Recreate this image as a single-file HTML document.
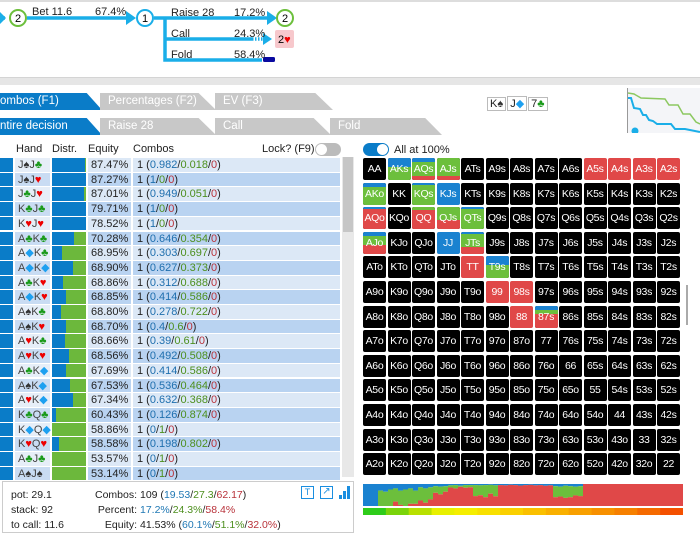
<!DOCTYPE html>
<html><head><meta charset="utf-8">
<style>
*{box-sizing:border-box}
body{margin:0;width:700px;height:531px;overflow:hidden;background:#fff;font-family:"Liberation Sans",sans-serif;font-size:11px;color:#222;position:relative}
.abs{position:absolute}
.tab{position:absolute;height:17px;line-height:17px;color:#fff;font-size:11.5px;padding-left:8px;clip-path:polygon(0 0,85% 0,100% 100%,0 100%)}
.row{position:absolute;left:0;height:14px;width:340px}
.cell{position:absolute;width:23px;height:22px;border-radius:2px;overflow:hidden;background:#000}
.cell span{position:absolute;left:0;right:0;top:0;line-height:22px;text-align:center;color:#fff;font-size:10.5px;letter-spacing:-0.3px}
.r{color:#e00}.g{color:#1a9a1a}.bl{color:#1ea0f0}.k{color:#333}
</style></head><body>
<div class="abs" style="left:0;top:0;width:700px;height:2px;background:#ddd"></div>
<svg class="abs" style="left:0;top:0" width="330" height="75">
<g stroke="#1aaee8" stroke-width="3.5" fill="none">
<line x1="0" y1="18" x2="5" y2="18"/><line x1="27" y1="18" x2="128" y2="18"/>
<line x1="154" y1="18" x2="268" y2="18"/>
<polyline points="165,18 165,60 262,60"/>
<line x1="165" y1="39" x2="252" y2="39"/>
</g>
<line x1="252" y1="39" x2="264" y2="39" stroke="#1aaee8" stroke-width="3.5" stroke-dasharray="1.5,1.5"/>
<polygon points="0,12 6,18 0,24" fill="#1aaee8"/>
<polygon points="126,11 136,18 126,25" fill="#1aaee8"/>
<polygon points="267,11 277,18 267,25" fill="#1aaee8"/>
<polygon points="263,33 272,39 263,45" fill="#1aaee8"/>
<rect x="263" y="57" width="12" height="5" rx="1.5" fill="#0a0aa0"/>
<circle cx="18" cy="18" r="8" fill="#fff" stroke="#6cbf3c" stroke-width="2"/>
<text x="18" y="22" font-size="11" text-anchor="middle" font-family="Liberation Sans">2</text>
<circle cx="145" cy="18" r="8" fill="#fff" stroke="#1aaee8" stroke-width="2"/>
<text x="145" y="22" font-size="11" text-anchor="middle" font-family="Liberation Sans">1</text>
<circle cx="285" cy="18" r="8" fill="#fff" stroke="#6cbf3c" stroke-width="2"/>
<text x="285" y="22" font-size="11" text-anchor="middle" font-family="Liberation Sans">2</text>
<rect x="275" y="30" width="19" height="18" rx="2" fill="#f7c8cc"/>
<text x="278" y="43" font-size="11" font-family="Liberation Sans">2<tspan fill="#e00">♥</tspan></text>
<g font-size="11" font-family="Liberation Sans" fill="#222">
<text x="32" y="15">Bet 11.6</text><text x="95" y="15">67.4%</text>
<text x="171" y="16">Raise 28</text><text x="234" y="16">17.2%</text>
<text x="171" y="37">Call</text><text x="234" y="37">24.3%</text>
<text x="171" y="58">Fold</text><text x="234" y="58">58.4%</text>
</g></svg>
<div class="abs" style="left:0;top:77px;width:700px;height:8px;background:#e6e6e6;border-top:1px solid #d4d4d4"></div>
<div class="tab" style="left:0;top:93px;width:102px;background:#0a7cc8;padding-left:0">ombos (F1)</div>
<div class="tab" style="left:100px;top:93px;width:116px;background:#c8c8c8">Percentages (F2)</div>
<div class="tab" style="left:215px;top:93px;width:118px;background:#c8c8c8">EV (F3)</div>
<div class="tab" style="left:0;top:118px;width:102px;background:#0a7cc8;padding-left:0">ntire decision</div>
<div class="tab" style="left:100px;top:118px;width:116px;background:#c8c8c8">Raise 28</div>
<div class="tab" style="left:215px;top:118px;width:116px;background:#c8c8c8">Call</div>
<div class="tab" style="left:330px;top:118px;width:112px;background:#c8c8c8">Fold</div>
<div class="abs" style="left:487px;top:96px;font-size:11px">
<span style="display:inline-block;border:1px solid #bbb;padding:0 2px;margin-right:1px">K<span class="k">♠</span></span><span style="display:inline-block;border:1px solid #bbb;padding:0 2px;margin-right:1px">J<span class="bl">◆</span></span><span style="display:inline-block;border:1px solid #bbb;padding:0 2px">7<span class="g">♣</span></span></div>
<svg class="abs" style="left:627px;top:88px" width="73" height="45">
<rect x="0" y="0" width="73" height="45" fill="#f4f5f8"/>
<line x1="0.5" y1="0" x2="0.5" y2="45" stroke="#999"/>
<polyline points="1,5 7,6 14,10 38,11 42,17 51,17 56,26 63,26 69,34 73,36" fill="none" stroke="#8cc860" stroke-width="1.5"/>
<polyline points="1,10 4,10 7,20 13,21 16,27 19,27 22,32 26,33 30,36 44,36 48,41 58,41 73,44" fill="none" stroke="#1aaee8" stroke-width="2"/>
<circle cx="8" cy="43" r="3.5" fill="#1aaee8"/>
</svg>
<div class="abs" style="left:0;top:143px;width:340px;height:14px;font-size:11px">
<span class="abs" style="left:16px">Hand</span><span class="abs" style="left:52px">Distr.</span><span class="abs" style="left:88px">Equity</span><span class="abs" style="left:133px">Combos</span><span class="abs" style="left:262px">Lock? (F9)</span>
<span class="abs" style="left:315px;top:0;width:26px;height:13px;border-radius:7px;background:#bbb"><span class="abs" style="left:1px;top:1px;width:11px;height:11px;border-radius:6px;background:#fff"></span></span></div>
<div id="table"></div>
<div class="abs" style="left:342px;top:157px;width:12px;height:320px;background:#e8e8e8"><div style="margin-left:1px;width:10px;height:75px;background:#c6c6c6"></div></div>
<div class="abs" style="left:363px;top:143px;width:26px;height:13px;border-radius:7px;background:#0a7cc8"><span class="abs" style="left:14px;top:1px;width:11px;height:11px;border-radius:6px;background:#fff"></span></div>
<div class="abs" style="left:394px;top:144px">All at 100%</div>
<div id="grid"></div>
<div class="abs" style="left:686px;top:285px;width:2px;height:40px;background:#aaa"></div>
<div class="abs" style="left:2px;top:481px;width:352px;height:52px;border:1px solid #ccc;font-size:10.5px;line-height:15px;padding:3px 0 0 8px;background:#fff;z-index:5">
<div class="abs" style="left:8px;top:6px">pot: 29.1<br>stack: 92<br>to call: 11.6</div>
<div class="abs" style="left:88px;top:6px;text-align:right;width:46px">Combos:<br>Percent:<br>Equity:</div>
<div class="abs" style="left:137px;top:6px">109 (<span style="color:#1f78b4">19.53</span>/<span style="color:#4d8f1e">27.3</span>/<span style="color:#b8323a">62.17</span>)<br><span style="color:#1f78b4">17.2%</span>/<span style="color:#4d8f1e">24.3%</span>/<span style="color:#b8323a">58.4%</span><br>41.53% (<span style="color:#1f78b4">60.1%</span>/<span style="color:#4d8f1e">51.1%</span>/<span style="color:#b8323a">32.0%</span>)</div>
<div class="abs" style="left:298px;top:4px;width:13px;height:13px;border:1.5px solid #1a8ee0;color:#1a8ee0;font-size:9px;line-height:10px;text-align:center">T</div>
<div class="abs" style="left:317px;top:4px;width:13px;height:13px;border:1.5px solid #1a8ee0;color:#1a8ee0;font-size:10px;line-height:10px;text-align:center">↗</div>
<svg class="abs" style="left:335px;top:3px" width="14" height="14"><rect x="1" y="10" width="3" height="4" fill="#1a8ee0"/><rect x="5" y="6" width="3" height="8" fill="#1a8ee0"/><rect x="9" y="1" width="3" height="13" fill="#1a8ee0"/></svg>
</div>
<svg id="sbar" class="abs" style="left:363px;top:484px" width="320" height="31"></svg>
<script>
const hands=['J♠J♣','J♠J♥','J♣J♥','K♣J♣','K♥J♥','A♣K♣','A◆K♣','A◆K◆','A♣K♥','A◆K♥','A♠K♣','A♠K♥','A♥K♣','A♥K♥','A♣K◆','A♠K◆','A♥K◆','K♣Q♣','K◆Q◆','K♥Q♥','A♣J♣','A♠J♠'];
const equity=['87.47%','87.27%','87.01%','79.71%','78.52%','70.28%','68.95%','68.90%','68.86%','68.85%','68.80%','68.70%','68.66%','68.56%','67.69%','67.53%','67.34%','60.43%','58.86%','58.58%','53.57%','53.14%'];
const raiseF=['0.982','1','0.949','1','1','0.646','0.303','0.627','0.312','0.414','0.278','0.4','0.39','0.492','0.414','0.536','0.632','0.126','0','0.198','0','0'];
const callF=['0.018','0','0.051','0','0','0.354','0.697','0.373','0.688','0.586','0.722','0.6','0.61','0.508','0.586','0.464','0.368','0.874','1','0.802','1','1'];
const ROW0=158,PITCH=14.7;
function suitHtml(h){return h.replace(/[♠♣♥◆]/g,s=>'<span class="'+({'♠':'k','♣':'g','♥':'r','◆':'bl'})[s]+'">'+s+'</span>');}
const tb=document.getElementById('table');
hands.forEach((h,i)=>{
 const r=document.createElement('div');
 
 
 r.className='row';
 r.style.top=(ROW0+i*PITCH)+'px';
 r.style.height='13.7px';
 const bg=i%2?'#b9d3f1':'#dce8f6';
 const b=parseFloat(raiseF[i]);
 r.innerHTML='<div class="abs" style="left:0;top:0;width:13px;height:13.7px;background:#0a7cc8"></div>'+
 '<div class="abs" style="left:15px;top:0;width:35px;height:13.7px;background:'+(i%2?'#c9dcf3':'#e6eef8')+';padding-left:3px;line-height:14px;color:#444">'+suitHtml(h)+'</div>'+
 '<div class="abs" style="left:52px;top:0;width:34px;height:13.7px;background:#6cb83c"><div style="width:'+(b*34)+'px;height:13.7px;background:#0a7cc8"></div></div>'+
 '<div class="abs" style="left:88px;top:0;width:43px;height:13.7px;background:'+bg+';line-height:14px;padding-left:3px">'+equity[i]+'</div>'+
 '<div class="abs" style="left:133px;top:0;width:207px;height:13.7px;background:'+bg+';line-height:14px;padding-left:4px">1 (<span style="color:#1f6fae">'+raiseF[i]+'</span>/<span style="color:#4d8f1e">'+callF[i]+'</span>/<span style="color:#b8323a">0</span>)</div>';
 tb.appendChild(r);
});
const ranks=['A','K','Q','J','T','9','8','7','6','5','4','3','2'];
const mixRaise={AKs:.4,AQs:.2,AKo:.2,KQs:.1,KJs:1,AQo:.07,QTs:.1,AJo:.2,JJ:1,JTs:.1,T9s:.4,'87s':.2};
const mixCall={AKs:.6,AQs:.6,AJs:.8,AKo:.8,KQs:.9,QQ:.15,QJs:.6,QTs:.9,AJo:.4,JTs:.6,T9s:.6,'87s':.2};
const mixFold={AQs:.2,AJs:.2,A5s:1,A4s:1,A3s:1,A2s:1,AQo:.93,QQ:.85,QJs:.4,AJo:.4,JTs:.3,TT:1,'99':1,'98s':1,'88':1,'87s':.6};
const gd=document.getElementById('grid');
for(let i=0;i<13;i++)for(let j=0;j<13;j++){
 const n=i==j?ranks[i]+ranks[j]:(j>i?ranks[i]+ranks[j]+'s':ranks[j]+ranks[i]+'o');
 const c=document.createElement('div');
 
 
 c.className='cell';
 c.style.left=(363+j*24.5)+'px';c.style.top=(158+i*24.6)+'px';
 const rb=mixRaise[n]||0,cg=mixCall[n]||0,fr=mixFold[n]||0;
 let html='';
 if(rb+cg+fr>0){html+='<div style="height:'+(rb*22)+'px;background:#1a82d0"></div><div style="height:'+(cg*22)+'px;background:#6cbf3c"></div><div style="height:'+(fr*22)+'px;background:#e04848"></div>';}
 c.innerHTML=html+'<span>'+n+'</span>';
 gd.appendChild(c);
}
const sRaise=[1,1,1,.3,.35,.25,.2,.3,.25,.2,.3,.15,.2,.15,.1,.12,.1,.06,.05,.08,.05,.05,.05,.06,.05,.04,.06,.05,.06,.04,.05,.07,.05,.04,.06,.05,.08,.06,.1,.12,.08,.1,.12,.1,0,0,0,0,0,0,0,0,0,0,0,0,0,0,0,0,0,0,0,0];
const sCall=[0,0,0,.7,.65,.75,.6,.65,.75,.7,.6,.6,.65,.55,.3,.35,.25,.1,.15,.05,.12,.1,.5,.45,.55,.4,.5,0,0,0,0,0,0,0,0,0,0,0,.5,.45,.55,.5,.4,.45,0,0,0,0,0,0,0,0,0,0,0,0,0,0,0,0,0,0,0,0];
const gradCols=['#2ecc1a','#7ad40a','#b8e000','#e8f000','#f5ee00','#f8e000','#fad000','#fac000','#f9b000','#f8a000','#f79000','#f68000','#f56a00','#f45000'];
const sv=document.getElementById('sbar');
const W=320,H=22,n=sRaise.length,dx=W/n;
let out='';
for(let k=0;k<n;k++){
 const x=k*dx,br=sRaise[k]*H,gc=sCall[k]*H;
 out+='<rect x="'+x+'" y="0" width="'+(dx+.4)+'" height="'+br+'" fill="#1a82d0"/>';
 out+='<rect x="'+x+'" y="'+br+'" width="'+(dx+.4)+'" height="'+gc+'" fill="#6cbf3c"/>';
 out+='<rect x="'+x+'" y="'+(br+gc)+'" width="'+(dx+.4)+'" height="'+Math.max(0,H-br-gc)+'" fill="#e04848"/>';
}
gradCols.forEach((c,k)=>{out+='<rect x="'+(k*W/gradCols.length)+'" y="24" width="'+(W/gradCols.length+.5)+'" height="7" fill="'+c+'"/>';});
sv.innerHTML=out;
</script>
</body></html>
